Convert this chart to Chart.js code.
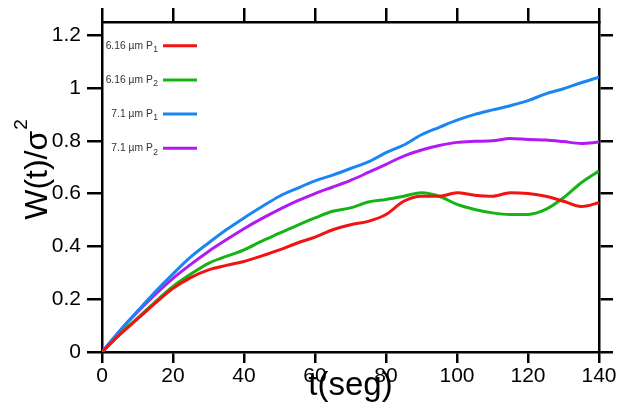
<!DOCTYPE html>
<html>
<head>
<meta charset="utf-8">
<script src="https://cdn.jsdelivr.net/npm/chart.js@4"></script>
<style>
  html, body { margin: 0; padding: 0; background: #fff; }
  #wrap { width: 623px; height: 408px; }
</style>
</head>
<body>
<div id="wrap"><canvas id="chartCanvas" width="623" height="408"></canvas></div>
<script>
// t (seg), sampled every 5 s
const times = [0, 5, 10, 15, 20, 25, 30, 35, 40, 45, 50, 55, 60, 65, 70,
               75, 80, 85, 90, 95, 100, 105, 110, 115, 120, 125, 130, 135, 140];

const red616 = [0, 0.066, 0.125, 0.185, 0.241, 0.282, 0.311, 0.328, 0.343, 0.364, 0.387, 0.413, 0.435, 0.463, 0.482,
                0.495, 0.521, 0.571, 0.59, 0.59, 0.603, 0.594, 0.59, 0.603, 0.6, 0.59, 0.571, 0.551, 0.565];
const green616 = [0, 0.068, 0.128, 0.19, 0.248, 0.295, 0.336, 0.362, 0.387, 0.42, 0.45, 0.48, 0.508, 0.533, 0.546,
                  0.568, 0.578, 0.59, 0.603, 0.59, 0.559, 0.54, 0.527, 0.521, 0.521, 0.54, 0.584, 0.641, 0.686];
const blue71 = [0, 0.08, 0.155, 0.228, 0.296, 0.36, 0.413, 0.463, 0.508, 0.55, 0.59, 0.62, 0.648, 0.67, 0.695,
                0.72, 0.755, 0.784, 0.823, 0.851, 0.878, 0.9, 0.917, 0.933, 0.952, 0.978, 0.997, 1.02, 1.041];
const purple71 = [0, 0.08, 0.152, 0.218, 0.279, 0.332, 0.381, 0.425, 0.467, 0.505, 0.54, 0.572, 0.6, 0.625, 0.65,
                  0.68, 0.711, 0.742, 0.765, 0.782, 0.794, 0.798, 0.8, 0.809, 0.805, 0.803, 0.797, 0.79, 0.795];

const seriesNames = ['6.16 µm P', '6.16 µm P', '7.1 µm P', '7.1 µm P'];
const seriesSubs = ['1', '2', '1', '2'];
const seriesColors = ['#f21212', '#14b414', '#1a86f2', '#b21af2'];

const xTicks = [0, 20, 40, 60, 80, 100, 120, 140];
const yTicks = [0, 0.2, 0.4, 0.6, 0.8, 1, 1.2];

const FONT = '"Liberation Sans", Arial, sans-serif';

function toPoints(vals) {
    return vals.map((v, i) => ({ x: times[i], y: v }));
}

const seriesData = [red616, green616, blue71, purple71];

// legend drawn inside the plot: label on the left, line sample on the right
const sideLegend = {
    id: 'sideLegend',
    afterDatasetsDraw(chart) {
        const { ctx, chartArea } = chart;
        const textRight = chartArea.left + 56;
        chart.data.datasets.forEach((ds, i) => {
            const y = chartArea.top + 23.7 + i * 34.2;
            ctx.save();
            ctx.fillStyle = '#333';
            ctx.textBaseline = 'middle';
            ctx.textAlign = 'right';
            ctx.font = '8.5px ' + FONT;
            const subW = ctx.measureText(seriesSubs[i]).width;
            ctx.fillText(seriesSubs[i], textRight, y + 4);
            ctx.font = '10.3px ' + FONT;
            ctx.fillText(seriesNames[i], textRight - subW - 0.5, y);
            ctx.strokeStyle = ds.borderColor;
            ctx.lineWidth = 3;
            ctx.beginPath();
            ctx.moveTo(chartArea.left + 61, y);
            ctx.lineTo(chartArea.left + 95, y);
            ctx.stroke();
            ctx.restore();
        });
    }
};

// y axis title with a real superscript
const yTitle = {
    id: 'yTitle',
    afterDraw(chart) {
        const { ctx } = chart;
        const main = 'W(t)/σ', sup = '2';
        ctx.save();
        ctx.translate(47, 170);
        ctx.rotate(-Math.PI / 2);
        ctx.fillStyle = '#000';
        ctx.textBaseline = 'alphabetic';
        ctx.textAlign = 'left';
        ctx.font = '32px ' + FONT;
        const w1 = ctx.measureText(main).width;
        ctx.font = '19px ' + FONT;
        const w2 = ctx.measureText(sup).width;
        const x0 = -(w1 + w2) / 2;
        ctx.font = '32px ' + FONT;
        ctx.fillText(main, x0, 0);
        ctx.font = '19px ' + FONT;
        ctx.fillText(sup, x0 + w1 + 1, -20);
        ctx.restore();
    }
};

const axisGrid = (len) => ({ drawOnChartArea: false, color: '#000', lineWidth: 2.5, tickLength: len });
const axisBorder = { color: '#000', width: 2.5 };

new Chart(document.getElementById('chartCanvas').getContext('2d'), {
    type: 'line',
    data: {
        datasets: seriesData.map((vals, i) => ({
            label: seriesNames[i] + seriesSubs[i],
            data: toPoints(vals),
            borderColor: seriesColors[i],
            borderWidth: 3,
            pointRadius: 0,
            cubicInterpolationMode: 'monotone',
            fill: false
        }))
    },
    options: {
        responsive: false,
        animation: false,
        layout: { padding: 0 },
        plugins: { legend: { display: false }, tooltip: { enabled: false } },
        scales: {
            x: {
                type: 'linear', position: 'bottom', min: 0, max: 140,
                afterBuildTicks: s => { s.ticks = xTicks.map(v => ({ value: v })); },
                afterFit: s => { s.height = 56; },
                grid: axisGrid(11),
                border: axisBorder,
                ticks: { color: '#000', font: { family: FONT, size: 21 }, padding: 1, maxRotation: 0, autoSkip: false },
                title: { display: true, text: 't(seg)', color: '#000', font: { family: FONT, size: 33 }, padding: { top: 0, bottom: 2 } }
            },
            y: {
                type: 'linear', position: 'left', min: 0, max: 1.25,
                afterBuildTicks: s => { s.ticks = yTicks.map(v => ({ value: v })); },
                afterFit: s => { s.width = 102; },
                grid: axisGrid(15),
                border: axisBorder,
                ticks: { color: '#000', font: { family: FONT, size: 21 }, padding: 6, callback: v => String(+v.toFixed(2)) }
            },
            x2: {
                type: 'linear', position: 'top', min: 0, max: 140,
                afterBuildTicks: s => { s.ticks = xTicks.map(v => ({ value: v })); },
                afterFit: s => { s.height = 22; },
                grid: axisGrid(14),
                border: axisBorder,
                ticks: { display: false }
            },
            y2: {
                type: 'linear', position: 'right', min: 0, max: 1.25,
                afterBuildTicks: s => { s.ticks = yTicks.map(v => ({ value: v })); },
                afterFit: s => { s.width = 24; },
                grid: axisGrid(14),
                border: axisBorder,
                ticks: { display: false }
            }
        }
    },
    plugins: [sideLegend, yTitle]
});
</script>
</body>
</html>
